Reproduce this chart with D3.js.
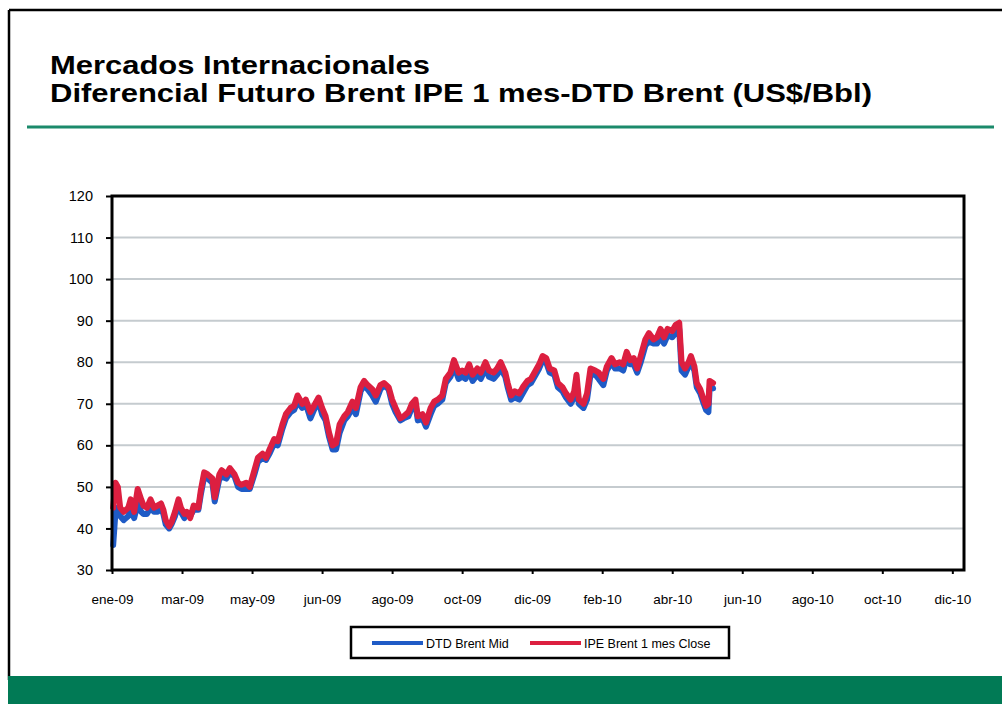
<!DOCTYPE html>
<html><head><meta charset="utf-8">
<script src="https://cdn.jsdelivr.net/npm/d3@7"></script>
<style>html,body{margin:0;padding:0;background:#fff;}svg{display:block;font-family:"Liberation Sans",Arial,sans-serif;}</style>
</head><body>
<script>
const dates = ["2009-01-02","2009-01-04","2009-01-06","2009-01-08","2009-01-11","2009-01-15","2009-01-17","2009-01-20","2009-01-23","2009-01-26","2009-01-28","2009-01-31","2009-02-03","2009-02-06","2009-02-09","2009-02-12","2009-02-14","2009-02-16","2009-02-19","2009-02-21","2009-02-24","2009-02-27","2009-03-01","2009-03-04","2009-03-06","2009-03-09","2009-03-12","2009-03-16","2009-03-18","2009-03-21","2009-03-24","2009-03-28","2009-03-30","2009-04-03","2009-04-05","2009-04-09","2009-04-12","2009-04-16","2009-04-19","2009-04-22","2009-04-26","2009-04-29","2009-05-03","2009-05-06","2009-05-10","2009-05-13","2009-05-16","2009-05-20","2009-05-23","2009-05-27","2009-05-30","2009-06-03","2009-06-06","2009-06-09","2009-06-13","2009-06-16","2009-06-20","2009-06-23","2009-06-27","2009-06-30","2009-07-03","2009-07-06","2009-07-09","2009-07-12","2009-07-15","2009-07-19","2009-07-22","2009-07-26","2009-07-29","2009-08-02","2009-08-05","2009-08-08","2009-08-12","2009-08-15","2009-08-19","2009-08-22","2009-08-26","2009-08-29","2009-09-01","2009-09-05","2009-09-08","2009-09-12","2009-09-15","2009-09-18","2009-09-20","2009-09-24","2009-09-27","2009-10-01","2009-10-04","2009-10-07","2009-10-11","2009-10-14","2009-10-18","2009-10-21","2009-10-25","2009-10-28","2009-10-31","2009-11-03","2009-11-06","2009-11-10","2009-11-13","2009-11-17","2009-11-20","2009-11-24","2009-11-27","2009-11-30","2009-12-04","2009-12-06","2009-12-09","2009-12-12","2009-12-16","2009-12-19","2009-12-23","2009-12-26","2009-12-30","2010-01-02","2010-01-05","2010-01-08","2010-01-11","2010-01-15","2010-01-18","2010-01-22","2010-01-25","2010-01-29","2010-02-01","2010-02-03","2010-02-05","2010-02-09","2010-02-12","2010-02-15","2010-02-19","2010-02-22","2010-02-26","2010-03-01","2010-03-05","2010-03-08","2010-03-12","2010-03-15","2010-03-18","2010-03-21","2010-03-24","2010-03-27","2010-03-30","2010-04-03","2010-04-06","2010-04-10","2010-04-13","2010-04-16","2010-04-19","2010-04-22","2010-04-26","2010-04-29","2010-05-02","2010-05-04","2010-05-07","2010-05-10","2010-05-12","2010-05-15","2010-05-17","2010-05-20","2010-05-23","2010-05-25","2010-05-27","2010-05-28","2010-05-31"];

const ipeBrent = [45,51,50,45,44,45,47,44,49.5,47,45.5,45,47,45,45.5,46,44.5,42,40.5,41.5,44,47,45,43.5,44,42.5,45.5,45,49,53.5,53,52,47.5,53,54,53,54.5,53,51,50.5,51,50,54,57,58,57,59,61.5,61,65,67.5,69,69.5,72,70,71,68,69.5,71.5,69,67,63,60,60.5,65,67,68,70.5,69,74,75.5,74.5,73.5,72,74.5,75,74,71,69,66.5,67,68,70,71,67,67.5,65.5,69,70.5,71,72,76,77.5,80.5,77.5,78,77.5,79.5,77,78.5,77.5,80,78,77.5,78.5,80,77.5,75,72,73,72.5,74,75.5,76,78,79.5,81.5,81,78.5,78,75,74,72.5,71,73,77,71,70,72.5,78.5,78,77.5,76,79,81,79.5,80,79.5,82.5,80.5,81,78.5,81.5,85.5,87,85.5,86,88,86,88,87.5,89,89.5,80,78.5,80,81.5,79,75,73.5,71,69.5,70,75.5,75];

const dtdBrent = [36,44,45,43,42,43,44.5,42.5,46,44,43.5,43.5,45,44,44,45,43.5,41,40,41,43,46,44,42.5,43.5,43,44.5,44.5,48,52.5,52,51,46.5,52,52.5,52,53.5,52.5,50,49.5,49.5,49.5,53,56,57,56.5,58,60.5,60,64,66.5,68,68.5,70.5,69,70,66.5,68.5,70.5,67.5,66,62,59,59,63,66,67,69,67.5,73,74.5,73.5,72,70.5,73.5,74.5,73.5,70,68,66,66.5,67,69,70,66,66.5,64.5,67.5,69.5,70,71,75,76.5,79,76,76.5,76,78,75.5,77,76,78.5,76.5,76,77,78.5,76.5,74,71,71.5,71,72.5,74.5,75,77,78.5,80.5,80,77.5,77,74,73,71.5,70,71.5,75,70,69,71,77,77,76,74.5,78,80,78.5,78.5,78,81,79.5,79.5,77.5,80,84,85,84.5,84.5,86,84.5,86.5,86,87,88,78,77,79,80,78,74,72.5,70,68.5,68,73.5,73.7];

const seriesNames = ["DTD Brent Mid","IPE Brent 1 mes Close"];
const seriesColors = ["#1f5bc6","#dc1f40"];
const yTicks = [30,40,50,60,70,80,90,100,110,120];
const xTickDates = ["2009-01-01","2009-03-02","2009-05-01","2009-06-30","2009-08-29","2009-10-28","2009-12-27","2010-02-25","2010-04-26","2010-06-25","2010-08-24","2010-10-23","2010-12-22"];
const xTickLabels = ["ene-09","mar-09","may-09","jun-09","ago-09","oct-09","dic-09","feb-10","abr-10","jun-10","ago-10","oct-10","dic-10"];
const titleLines = ["Mercados Internacionales","Diferencial Futuro Brent IPE 1 mes-DTD Brent (US$/Bbl)"];

const parse = d3.utcParse("%Y-%m-%d");
const W = 1002, H = 704;
const svg = d3.select("body").append("svg").attr("width", W).attr("height", H);

// page frame
svg.append("line").attr("x1",9).attr("x2",W).attr("y1",10).attr("y2",10).attr("stroke","#000").attr("stroke-width",2.5);
svg.append("line").attr("x1",9).attr("x2",9).attr("y1",10).attr("y2",680).attr("stroke","#000").attr("stroke-width",2.5);
svg.append("rect").attr("x",8).attr("y",676).attr("width",W-8).attr("height",H-676).attr("fill","#017a55");
svg.append("line").attr("x1",27).attr("x2",994).attr("y1",127).attr("y2",127).attr("stroke","#1b8a6b").attr("stroke-width",3);

// title
const tl = [380, 822];
titleLines.forEach((t,i)=>{
  svg.append("text").attr("x",50).attr("y",74+i*28).attr("font-size",25).attr("font-weight","bold")
    .attr("fill","#000").attr("textLength",tl[i]).attr("lengthAdjust","spacingAndGlyphs").text(t);
});

const x0 = 112, x1 = 964, yTop = 196, yBot = 570;
const x = d3.scaleUtc().domain([parse("2009-01-01"), parse("2011-01-01")]).range([x0, x1]);
const y = d3.scaleLinear().domain([30,120]).range([yBot, yTop]);

// gridlines
svg.append("g").selectAll("line").data(yTicks.filter(v=>v>30 && v<120)).join("line")
  .attr("x1",x0).attr("x2",x1).attr("y1",d=>y(d)).attr("y2",d=>y(d))
  .attr("stroke","#c5cbcf").attr("stroke-width",2);

// series
const pts = (vals)=>dates.map((d,i)=>({d:parse(d), v:vals[i]}));
const line = d3.line().x(p=>x(p.d)).y(p=>y(p.v));
[dtdBrent, ipeBrent].forEach((vals,i)=>{
  svg.append("path").datum(pts(vals)).attr("d",line).attr("fill","none")
    .attr("stroke",seriesColors[i]).attr("stroke-width",6).attr("stroke-linejoin","round").attr("stroke-linecap","round");
});

// plot border
svg.append("rect").attr("x",x0).attr("y",yTop).attr("width",x1-x0).attr("height",yBot-yTop)
  .attr("fill","none").attr("stroke","#000").attr("stroke-width",3);

// y axis
const yAxis = d3.axisLeft(y).tickValues(yTicks).tickSize(6).tickPadding(13).tickFormat(d3.format("d"));
const gy = svg.append("g").attr("transform",`translate(${x0},0)`).call(yAxis);
gy.select(".domain").remove();
gy.selectAll(".tick line").attr("stroke","#000").attr("stroke-width",2);
gy.selectAll(".tick text").attr("font-size",14.5).attr("fill","#000").attr("font-family","Liberation Sans, Arial, sans-serif");

// x axis
const xAxis = d3.axisBottom(x).tickValues(xTickDates.map(parse)).tickSize(4).tickPadding(20)
  .tickFormat((d,i)=>xTickLabels[i]);
const gx = svg.append("g").attr("transform",`translate(0,${yBot})`).call(xAxis);
gx.select(".domain").remove();
gx.selectAll(".tick line").attr("stroke","#000").attr("stroke-width",2);
gx.selectAll(".tick text").attr("font-size",13.5).attr("fill","#000").attr("font-family","Liberation Sans, Arial, sans-serif");

// legend
const lg = svg.append("g");
lg.append("rect").attr("x",351).attr("y",627).attr("width",378).attr("height",31).attr("fill","#fff").attr("stroke","#000").attr("stroke-width",2.5);
const legX = [372, 530];
seriesNames.forEach((n,i)=>{
  lg.append("line").attr("x1",legX[i]).attr("x2",legX[i]+51).attr("y1",643).attr("y2",643)
    .attr("stroke",seriesColors[i]).attr("stroke-width",4);
  lg.append("text").attr("x",legX[i]+54).attr("y",647.5).attr("font-size",12.5).attr("fill","#000").text(n);
});
</script>
</body></html>
